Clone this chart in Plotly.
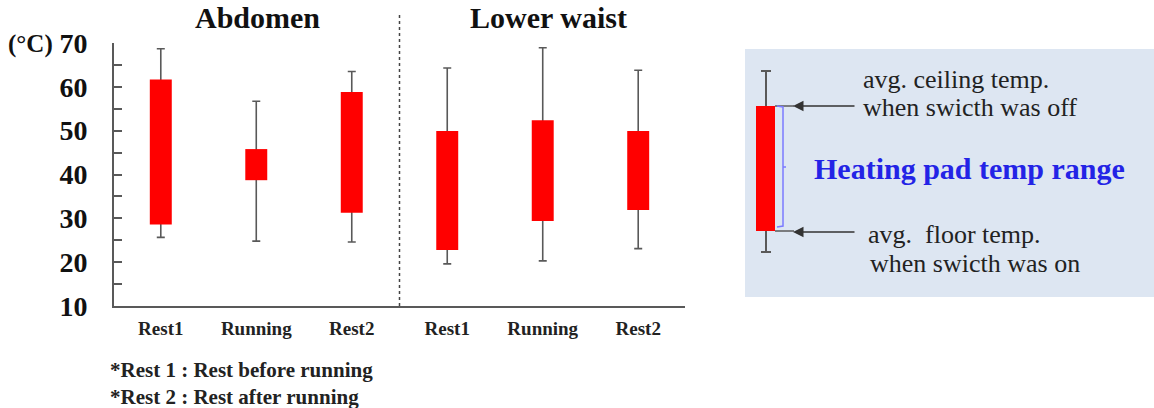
import plotly.graph_objects as go

# ---- data ----
groups = ["Abdomen", "Lower waist"]
phases = ["Rest1", "Running", "Rest2"]
bar_top = [61.7, 45.8, 58.8, 49.9, 52.4, 49.9]      # avg ceiling temp (switch off)
bar_bottom = [28.6, 38.7, 31.3, 22.8, 29.4, 31.9]   # avg floor temp (switch on)
whisker_top = [68.7, 56.7, 63.5, 64.3, 68.9, 63.8]
whisker_bottom = [25.65, 24.8, 24.6, 19.6, 20.3, 23.1]
y_ticks = [10, 20, 30, 40, 50, 60, 70]
footnotes = ["*Rest 1 : Rest before running", "*Rest 2 : Rest after running"]

W, H = 1154, 408
def px(x):
    return x / W
def py(y):
    return 1 - y / H

n = len(bar_top)
xs = list(range(n))
tick_text = phases * len(groups)

SERIF = "Liberation Serif"
AX = "#595959"

fig = go.Figure()

# whiskers (drawn first, covered by the red bars)
fig.add_trace(go.Bar(
    x=xs, y=bar_top, width=0.23,
    marker=dict(color="rgba(0,0,0,0)", line=dict(width=0)),
    error_y=dict(type="data", symmetric=False,
                 array=[t - b for t, b in zip(whisker_top, bar_top)],
                 arrayminus=[b - w for b, w in zip(bar_top, whisker_bottom)],
                 color=AX, thickness=1.6, width=4),
    hoverinfo="skip", showlegend=False,
))
# red range bars
fig.add_trace(go.Bar(
    x=xs, y=[t - b for t, b in zip(bar_top, bar_bottom)], base=bar_bottom,
    width=0.23, marker=dict(color="#ff0000", line=dict(width=0)),
    showlegend=False,
))

fig.update_layout(
    width=W, height=H, barmode="overlay", autosize=False,
    margin=dict(l=0, r=0, t=0, b=0, pad=0, autoexpand=False),
    paper_bgcolor="white", plot_bgcolor="white",
    xaxis=dict(domain=[px(114), px(685)], range=[-0.49, n - 0.51], automargin=False,
               tickvals=xs, ticktext=[f"<b>{t}</b>" for t in tick_text],
               showgrid=False, zeroline=False,
               showline=True, linecolor=AX, linewidth=2, ticks="",
               ticklabelstandoff=4,
               tickfont=dict(family=SERIF, size=19, color="#222")),
    yaxis=dict(domain=[py(306), py(43)], range=[10, 70], tickvals=y_ticks, automargin=False,
               ticktext=[f"<b>{v}</b>" for v in y_ticks],
               showgrid=False, zeroline=False, showline=True, linecolor=AX,
               linewidth=2, ticks="inside", ticklen=8, tickwidth=2, tickcolor=AX,
               minor=dict(ticks="inside", dtick=5, ticklen=8, tickwidth=2, tickcolor=AX),
               ticklabelstandoff=19,
               tickfont=dict(family=SERIF, size=28, color="#111")),
)

shapes = []
# divider between groups
shapes.append(dict(type="line", xref="x", yref="paper", x0=2.5, x1=2.5,
                   y0=py(306), y1=py(13), line=dict(color="#444", width=1.5, dash="dot")))
# legend panel
shapes.append(dict(type="rect", xref="paper", yref="paper", x0=px(745), x1=px(1154),
                   y0=py(297), y1=py(49), fillcolor="#dde6f2", line=dict(width=0), layer="below"))
# legend sample whisker
shapes.append(dict(type="line", xref="paper", yref="paper", x0=px(766), x1=px(766),
                   y0=py(252), y1=py(71), line=dict(color=AX, width=2)))
for yy in (71, 252):
    shapes.append(dict(type="line", xref="paper", yref="paper", x0=px(761), x1=px(771),
                       y0=py(yy), y1=py(yy), line=dict(color=AX, width=2)))
# legend sample bar
shapes.append(dict(type="rect", xref="paper", yref="paper", x0=px(756), x1=px(775),
                   y0=py(231), y1=py(106), fillcolor="#ff0000", line=dict(width=0)))
# connector lines from bar to arrows
for yy in (106, 231):
    shapes.append(dict(type="line", xref="paper", yref="paper", x0=px(775), x1=px(794),
                       y0=py(yy), y1=py(yy), line=dict(color=AX, width=1.5)))
# blue bracket
shapes.append(dict(type="path", xref="paper", yref="paper",
                   path=(f"M {px(777)} {py(106)} L {px(783)} {py(107)} L {px(783)} {py(226)} "
                         f"L {px(777)} {py(227)} M {px(783)} {py(167)} L {px(786)} {py(167)}"),
                   line=dict(color="#7b7bff", width=1.5)))
fig.update_layout(shapes=shapes)

ann = []
def add_text(text, x, y, size, color="#111", xanchor="left"):
    ann.append(dict(text=text, x=px(x), y=py(y), xref="paper", yref="paper",
                    xanchor=xanchor, yanchor="middle", showarrow=False,
                    font=dict(family=SERIF, size=size, color=color)))

# group titles
add_text("<b>Abdomen</b>", 257, 18, 30, xanchor="center")
add_text("<b>Lower waist</b>", 548, 18, 30, xanchor="center")
# unit
add_text("<b>(°C)</b>", 6, 44, 25)
# footnotes
for i, t in enumerate(footnotes):
    add_text(f"<b>{t}</b>", 108, 370 + 27 * i, 21, color="#222")
# legend arrows
for yy in (106, 232):
    ann.append(dict(text="", x=px(793), y=py(yy), ax=63, ay=0, xref="paper", yref="paper",
                    axref="pixel", ayref="pixel", showarrow=True, arrowhead=2, arrowsize=1.4,
                    arrowwidth=1.5, arrowcolor="#333"))
# legend texts
legend_lines = [("avg. ceiling temp.", 861, 80), ("when swicth was off", 861, 108),
                ("avg.  floor temp.", 866, 235), ("when swicth was on", 868, 263)]
for t, xx, yy in legend_lines:
    add_text(t.replace("  ", "&nbsp; "), xx, yy, 26, color="#222")
add_text("<b>Heating pad temp range</b>", 812, 168, 30, color="#2323e6")
fig.update_layout(annotations=ann)

fig.write_html("out.html")
